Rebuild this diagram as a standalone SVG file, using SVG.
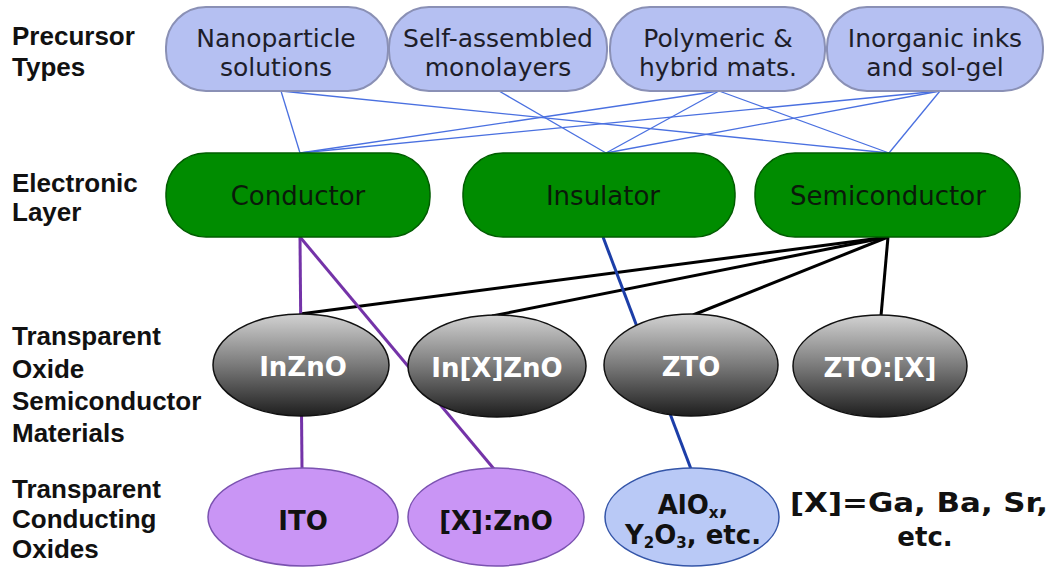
<svg xmlns="http://www.w3.org/2000/svg" width="1062" height="572" viewBox="0 0 1062 572">
<defs>
<linearGradient id="grey" x1="0" y1="0" x2="0" y2="1">
<stop offset="0" stop-color="#d2d2d2"/>
<stop offset="0.5" stop-color="#7a7a7a"/>
<stop offset="1" stop-color="#1e1e1e"/>
</linearGradient>
<style>
.lbl{font-family:"Liberation Sans",Arial,sans-serif;font-weight:bold;font-size:26px;fill:#111}
.prec rect{fill:#b5c0f2;stroke:#8a90b5;stroke-width:2}
.prec text{font-family:"DejaVu Sans",Verdana,sans-serif;font-size:25px;fill:#1e1e2a;text-anchor:middle}
.layer rect{fill:#008c00;stroke:#005c00;stroke-width:1.5}
.layer text{font-family:"DejaVu Sans",Verdana,sans-serif;font-size:26px;fill:#0a1a0a;text-anchor:middle}
.tos ellipse{fill:url(#grey);stroke:#111;stroke-width:1.5}
.tos text{font-family:"DejaVu Sans",Verdana,sans-serif;font-weight:bold;font-size:26px;fill:#fff;text-anchor:middle}
.tco ellipse{fill:#c995f5;stroke:#7a52b0;stroke-width:1.5}
.ins ellipse{fill:#b9c9f6;stroke:#3455a8;stroke-width:1.5}
.bt{font-family:"DejaVu Sans",Verdana,sans-serif;font-weight:bold;font-size:26px;fill:#111;text-anchor:middle}
.thin{stroke:#4a70e0;stroke-width:1.3;fill:none}
.blk{stroke:#000;stroke-width:3;fill:none}
.pur{stroke:#7433a8;stroke-width:3;fill:none}
.dbl{stroke:#1c3ea8;stroke-width:3;fill:none}
</style>
</defs>
<rect width="1062" height="572" fill="#fff"/>

<g id="labels">
<text class="lbl" x="12" y="45">Precursor</text>
<text class="lbl" x="12" y="76">Types</text>
<text class="lbl" x="12" y="192">Electronic</text>
<text class="lbl" x="12" y="221">Layer</text>
<text class="lbl" x="12" y="345">Transparent</text>
<text class="lbl" x="12" y="378">Oxide</text>
<text class="lbl" x="12" y="410">Semiconductor</text>
<text class="lbl" x="12" y="442">Materials</text>
<text class="lbl" x="12" y="498">Transparent</text>
<text class="lbl" x="12" y="528">Conducting</text>
<text class="lbl" x="12" y="558">Oxides</text>
</g>

<g id="connectors">
<line class="thin" x1="281" y1="91" x2="300" y2="153"/>
<line class="thin" x1="281" y1="91" x2="889" y2="153"/>
<line class="thin" x1="499" y1="91" x2="606" y2="153"/>
<line class="thin" x1="719" y1="91" x2="300" y2="153"/>
<line class="thin" x1="719" y1="91" x2="606" y2="153"/>
<line class="thin" x1="719" y1="91" x2="889" y2="153"/>
<line class="thin" x1="940" y1="91" x2="300" y2="153"/>
<line class="thin" x1="940" y1="91" x2="606" y2="153"/>
<line class="thin" x1="940" y1="91" x2="889" y2="153"/>
<line class="blk" x1="888" y1="237" x2="300" y2="314"/>
<line class="blk" x1="888" y1="237" x2="492" y2="316"/>
<line class="blk" x1="888" y1="237" x2="693" y2="315"/>
<line class="blk" x1="888" y1="237" x2="881" y2="316"/>
<line class="pur" x1="300" y1="237" x2="302" y2="468"/>
<line class="pur" x1="300" y1="237" x2="494" y2="469"/>
<line class="dbl" x1="603" y1="237" x2="691" y2="469"/>
</g>

<g id="precursor-nanoparticle" class="prec">
<rect x="166" y="7" width="222" height="84" rx="40"/>
<text x="276" y="47">Nanoparticle</text>
<text x="276" y="76">solutions</text>
</g>
<g id="precursor-sam" class="prec">
<rect x="389" y="7" width="218" height="84" rx="40"/>
<text x="498" y="47">Self-assembled</text>
<text x="498" y="76">monolayers</text>
</g>
<g id="precursor-polymeric" class="prec">
<rect x="610" y="7" width="215" height="84" rx="40"/>
<text x="718" y="47">Polymeric &amp;</text>
<text x="718" y="76">hybrid mats.</text>
</g>
<g id="precursor-inorganic" class="prec">
<rect x="827" y="7" width="216" height="84" rx="40"/>
<text x="935" y="47">Inorganic inks</text>
<text x="935" y="76">and sol-gel</text>
</g>

<g id="layer-conductor" class="layer">
<rect x="166" y="153" width="264" height="84" rx="40"/>
<text x="298" y="205">Conductor</text>
</g>
<g id="layer-insulator" class="layer">
<rect x="463" y="153" width="272" height="84" rx="40"/>
<text x="603" y="205">Insulator</text>
</g>
<g id="layer-semiconductor" class="layer">
<rect x="755" y="153" width="265" height="84" rx="40"/>
<text x="888" y="205">Semiconductor</text>
</g>

<g id="tos-inzno" class="tos">
<ellipse cx="301" cy="365" rx="88" ry="51"/>
<text x="303" y="376">InZnO</text>
</g>
<g id="tos-inxzno" class="tos">
<ellipse cx="497" cy="366" rx="89" ry="51"/>
<text x="497" y="377">In[X]ZnO</text>
</g>
<g id="tos-zto" class="tos">
<ellipse cx="691" cy="365" rx="87" ry="51"/>
<text x="691" y="376">ZTO</text>
</g>
<g id="tos-ztox" class="tos">
<ellipse cx="880" cy="366" rx="87" ry="51"/>
<text x="880" y="377">ZTO:[X]</text>
</g>

<g id="tco-ito" class="tco">
<ellipse cx="303" cy="517" rx="95" ry="49"/>
<text class="bt" x="303" y="530">ITO</text>
</g>
<g id="tco-xzno" class="tco">
<ellipse cx="496" cy="517" rx="88" ry="49"/>
<text class="bt" x="496" y="530">[X]:ZnO</text>
</g>
<g id="ins-alox" class="ins">
<ellipse cx="692" cy="517" rx="87" ry="49"/>
<text class="bt" x="693" y="514" font-size="24">AlO<tspan font-size="15" dy="4">x</tspan><tspan dy="-4">,</tspan></text>
<text class="bt" x="693" y="544" font-size="24">Y<tspan font-size="15" dy="4">2</tspan><tspan dy="-4">O</tspan><tspan font-size="15" dy="4">3</tspan><tspan dy="-4">, etc.</tspan></text>
</g>

<g id="note">
<text class="bt" x="919" y="512" font-size="29" textLength="258" lengthAdjust="spacingAndGlyphs">[X]=Ga, Ba, Sr,</text>
<text class="bt" x="925" y="546" font-size="29">etc.</text>
</g>
</svg>
